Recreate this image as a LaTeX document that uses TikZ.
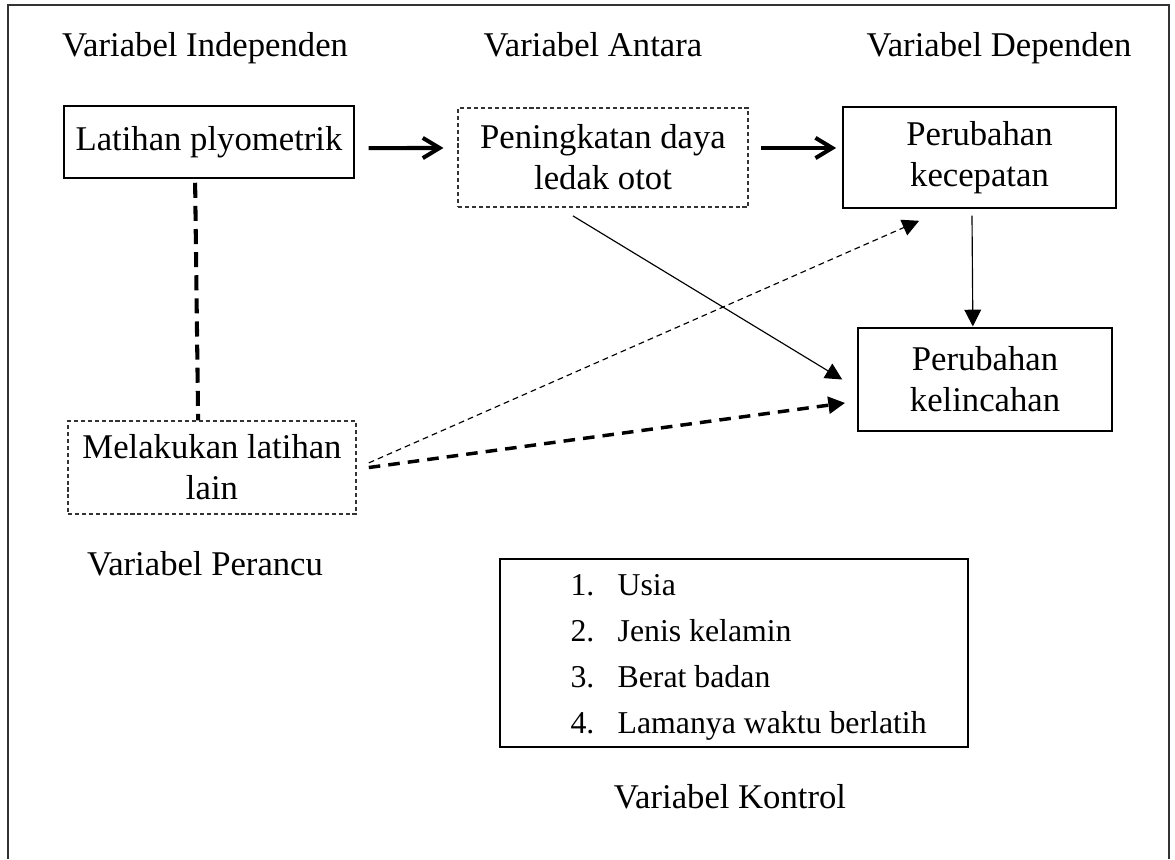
\documentclass[tikz,border=0pt]{standalone}
\usepackage{fontspec}
\setmainfont{Liberation Serif}
\usetikzlibrary{arrows.meta}

\begin{document}
\begin{tikzpicture}[%
x=0.346pt, y=-0.346pt,
font=\fontsize{12}{14.2}\selectfont,
kotak/.style={draw=black, line width=0.5pt, inner sep=0pt, align=center},
kotakputus/.style={kotak, draw=black!80, dash pattern=on 1.4pt off 1pt},
label/.style={anchor=base, inner sep=0pt},
panahtebal/.style={line width=1.4pt, -{Straight Barb[length=5.8pt, width=7pt, line width=1.4pt]}},
panahtipis/.style={line width=0.4pt, -{Triangle[length=5.8pt, width=5.8pt]}},
]
\useasboundingbox (0,0) rectangle (1175,859);
%% frame;
\draw [color=black!80, line width=0.7pt] (8,859) -- (8,5) -- (1169,5) -- (1169,859);
%% labels;
\node [label] (lindependen) at (205,56) {Variabel Independen};
\node [label] (lantara) at (593,56) {Variabel Antara};
\node [label] (ldependen) at (999,56) {Variabel Dependen};
\node [label] (lperancu) at (205,575) {Variabel Perancu};
\node [label] (lkontrol) at (730,808) {Variabel Kontrol};
%% boxes;
\node [kotak, minimum width=100.3pt, minimum height=24.9pt] (latihan) at (209,142) {Latihan plyometrik};
\node [kotakputus, minimum width=100.3pt, minimum height=34.3pt] (peningkatan) at (603,157.5) {Peningkatan daya\\ledak otot};
\node [kotak, minimum width=94.5pt, minimum height=34.9pt] (kecepatan) at (979.5,157.5) {Perubahan\\kecepatan};
\node [kotak, minimum width=87.9pt, minimum height=35.6pt] (kelincahan) at (985,379.5) {Perubahan\\kelincahan};
\node [kotakputus, minimum width=99.6pt, minimum height=32.2pt] (melakukan) at (212,467.5) {Melakukan latihan\\lain};
\node [kotak, minimum width=161.9pt, minimum height=65pt] (kontrol) at (734,653) {};
%% list;
\node [anchor=west, inner sep=0pt, align=left, font=\fontsize{11}{15.9}\selectfont] (daftar) at (570,657)
{\makebox[16.3pt][l]{1.}Usia\\
\makebox[16.3pt][l]{2.}Jenis kelamin\\
\makebox[16.3pt][l]{3.}Berat badan\\
\makebox[16.3pt][l]{4.}Lamanya waktu berlatih};
%% arrows;
\draw [panahtebal] ([xshift=4.8pt,yshift=-2.1pt]latihan.east) -- ([xshift=-4.8pt,yshift=3.3pt]peningkatan.west);
\draw [panahtebal] ([xshift=4.2pt,yshift=3.3pt]peningkatan.east) -- ([xshift=-2.1pt,yshift=3.3pt]kecepatan.west);
\draw [line width=1.4pt, dash pattern=on 5.2pt off 2.8pt] ([xshift=-4.8pt,yshift=-1.4pt]latihan.south) -- ([xshift=-4.8pt]melakukan.north);
\draw [panahtipis] ([xshift=-10.4pt,yshift=-2.8pt]peningkatan.south) -- ([xshift=-5.2pt]kelincahan.west);
\draw [panahtipis, dash pattern=on 2pt off 1.4pt] ([xshift=4.2pt,yshift=1.6pt]melakukan.east) -- ([xshift=-20.9pt,yshift=-4.2pt]kecepatan.south);
\draw [line width=1.2pt, dash pattern=on 4pt off 2.8pt, -{Triangle[length=5.8pt, width=5.8pt]}] ([xshift=4.2pt]melakukan.east) -- ([xshift=-4.2pt,yshift=-8.1pt]kelincahan.west);
\draw [panahtipis] ([xshift=-2.6pt,yshift=-2.4pt]kecepatan.south) -- ([xshift=-4.2pt,yshift=0.3pt]kelincahan.north);
\end{tikzpicture}
\end{document}
